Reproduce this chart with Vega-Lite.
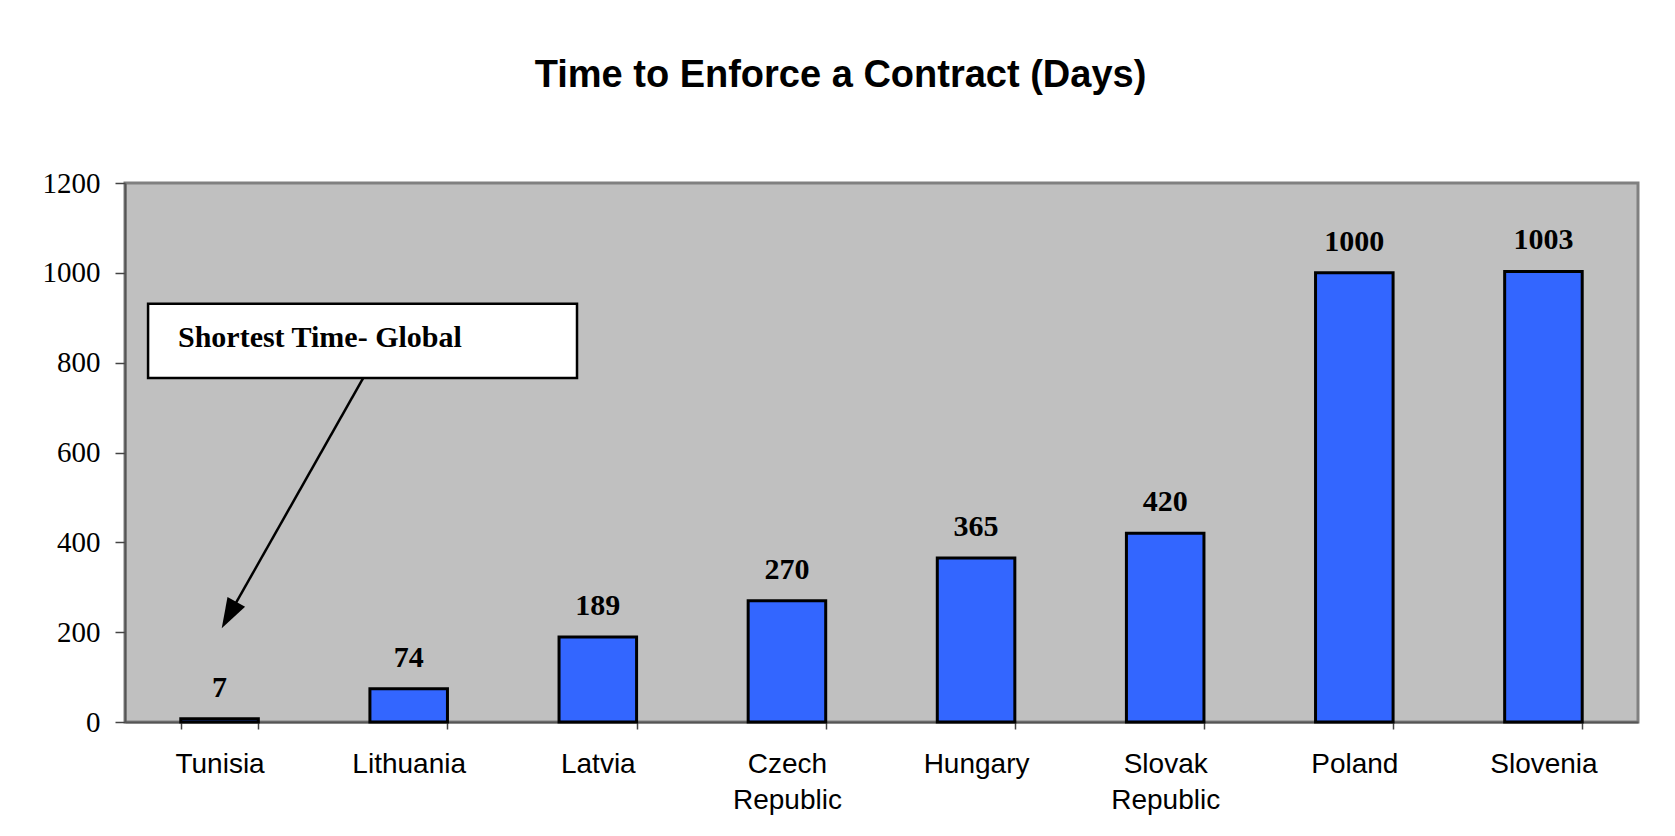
{
  "$schema": "https://vega.github.io/schema/vega-lite/v6.json",
  "width": 1513,
  "height": 539,
  "autosize": "none",
  "padding": {"left": 125, "top": 183, "right": 37, "bottom": 114},
  "background": "white",
  "title": {
    "text": "Time to Enforce a Contract (Days)",
    "font": "Liberation Sans",
    "fontSize": 38,
    "fontWeight": "bold",
    "color": "black",
    "anchor": "middle",
    "baseline": "alphabetic",
    "dx": -41,
    "offset": 44
  },
  "config": {
    "view": {"fill": "#C0C0C0", "stroke": "#808080", "strokeWidth": 3},
    "axis": {"grid": false}
  },
  "resolve": {"scale": {"x": "independent"}},
  "layer": [
    {
      "data": {
        "values": [
          {"Country": "Tunisia", "Days": 7},
          {"Country": "Lithuania", "Days": 74},
          {"Country": "Latvia", "Days": 189},
          {"Country": "Czech Republic", "Days": 270},
          {"Country": "Hungary", "Days": 365},
          {"Country": "Slovak Republic", "Days": 420},
          {"Country": "Poland", "Days": 1000},
          {"Country": "Slovenia", "Days": 1003}
        ]
      },
      "encoding": {
        "x": {
          "field": "Country",
          "type": "nominal",
          "sort": null,
          "scale": {"paddingInner": 0.59, "paddingOuter": 0.295},
          "axis": {
            "title": null,
            "labelAngle": 0,
            "labelFont": "Liberation Sans",
            "labelFontSize": 28,
            "labelColor": "black",
            "labelLineHeight": 36,
            "labelPadding": 21,
            "labelExpr": "split(datum.label, ' ')",
            "tickBand": "extent",
            "tickSize": 7,
            "tickColor": "#444444",
            "tickWidth": 1.5,
            "domainColor": "#555555",
            "domainWidth": 2
          }
        },
        "y": {
          "field": "Days",
          "type": "quantitative",
          "scale": {"domain": [0, 1200], "nice": false},
          "axis": {
            "title": null,
            "values": [0, 200, 400, 600, 800, 1000, 1200],
            "format": "d",
            "labelFont": "Liberation Serif",
            "labelFontSize": 29,
            "labelColor": "black",
            "labelPadding": 15,
            "tickSize": 10,
            "tickColor": "#444444",
            "tickWidth": 1.5,
            "domainColor": "#555555",
            "domainWidth": 2
          }
        }
      },
      "layer": [
        {
          "mark": {"type": "bar", "fill": "#3366FF", "stroke": "black", "strokeWidth": 3}
        },
        {
          "mark": {
            "type": "text",
            "font": "Liberation Serif",
            "fontSize": 30,
            "fontWeight": "bold",
            "color": "black",
            "baseline": "alphabetic",
            "dy": -22
          },
          "encoding": {"text": {"field": "Days", "type": "quantitative", "format": "d"}}
        }
      ]
    },
    {
      "layer": [
        {
          "data": {"values": [{"x1": 0.122, "x2": 2.39, "y1": 766, "y2": 931}]},
          "mark": {"type": "rect", "fill": "white", "stroke": "black", "strokeWidth": 2.5},
          "encoding": {
            "x": {"field": "x1", "type": "quantitative", "scale": {"domain": [0, 8], "nice": false, "zero": false}, "axis": null},
            "x2": {"field": "x2"},
            "y": {"field": "y1", "type": "quantitative"},
            "y2": {"field": "y2"}
          }
        },
        {
          "data": {"values": [{"x": 0.28, "y": 835, "label": "Shortest Time- Global"}]},
          "mark": {
            "type": "text",
            "font": "Liberation Serif",
            "fontSize": 30,
            "fontWeight": "bold",
            "color": "black",
            "align": "left",
            "baseline": "alphabetic"
          },
          "encoding": {
            "x": {"field": "x", "type": "quantitative", "scale": {"domain": [0, 8], "nice": false, "zero": false}, "axis": null},
            "y": {"field": "y", "type": "quantitative"},
            "text": {"field": "label"}
          }
        },
        {
          "data": {"values": [{"x1": 1.26, "y1": 766, "x2": 0.55, "y2": 238}]},
          "mark": {"type": "rule", "color": "black", "strokeWidth": 2.5},
          "encoding": {
            "x": {"field": "x1", "type": "quantitative", "scale": {"domain": [0, 8], "nice": false, "zero": false}, "axis": null},
            "y": {"field": "y1", "type": "quantitative"},
            "x2": {"field": "x2"},
            "y2": {"field": "y2"}
          }
        },
        {
          "data": {"values": [{"x": 0.55, "y": 238}]},
          "mark": {
            "type": "point",
            "shape": "M0,-1L0.67,1L-0.67,1Z",
            "filled": true,
            "color": "black",
            "opacity": 1,
            "size": 900,
            "angle": 209
          },
          "encoding": {
            "x": {"field": "x", "type": "quantitative", "scale": {"domain": [0, 8], "nice": false, "zero": false}, "axis": null},
            "y": {"field": "y", "type": "quantitative"}
          }
        }
      ]
    }
  ]
}
